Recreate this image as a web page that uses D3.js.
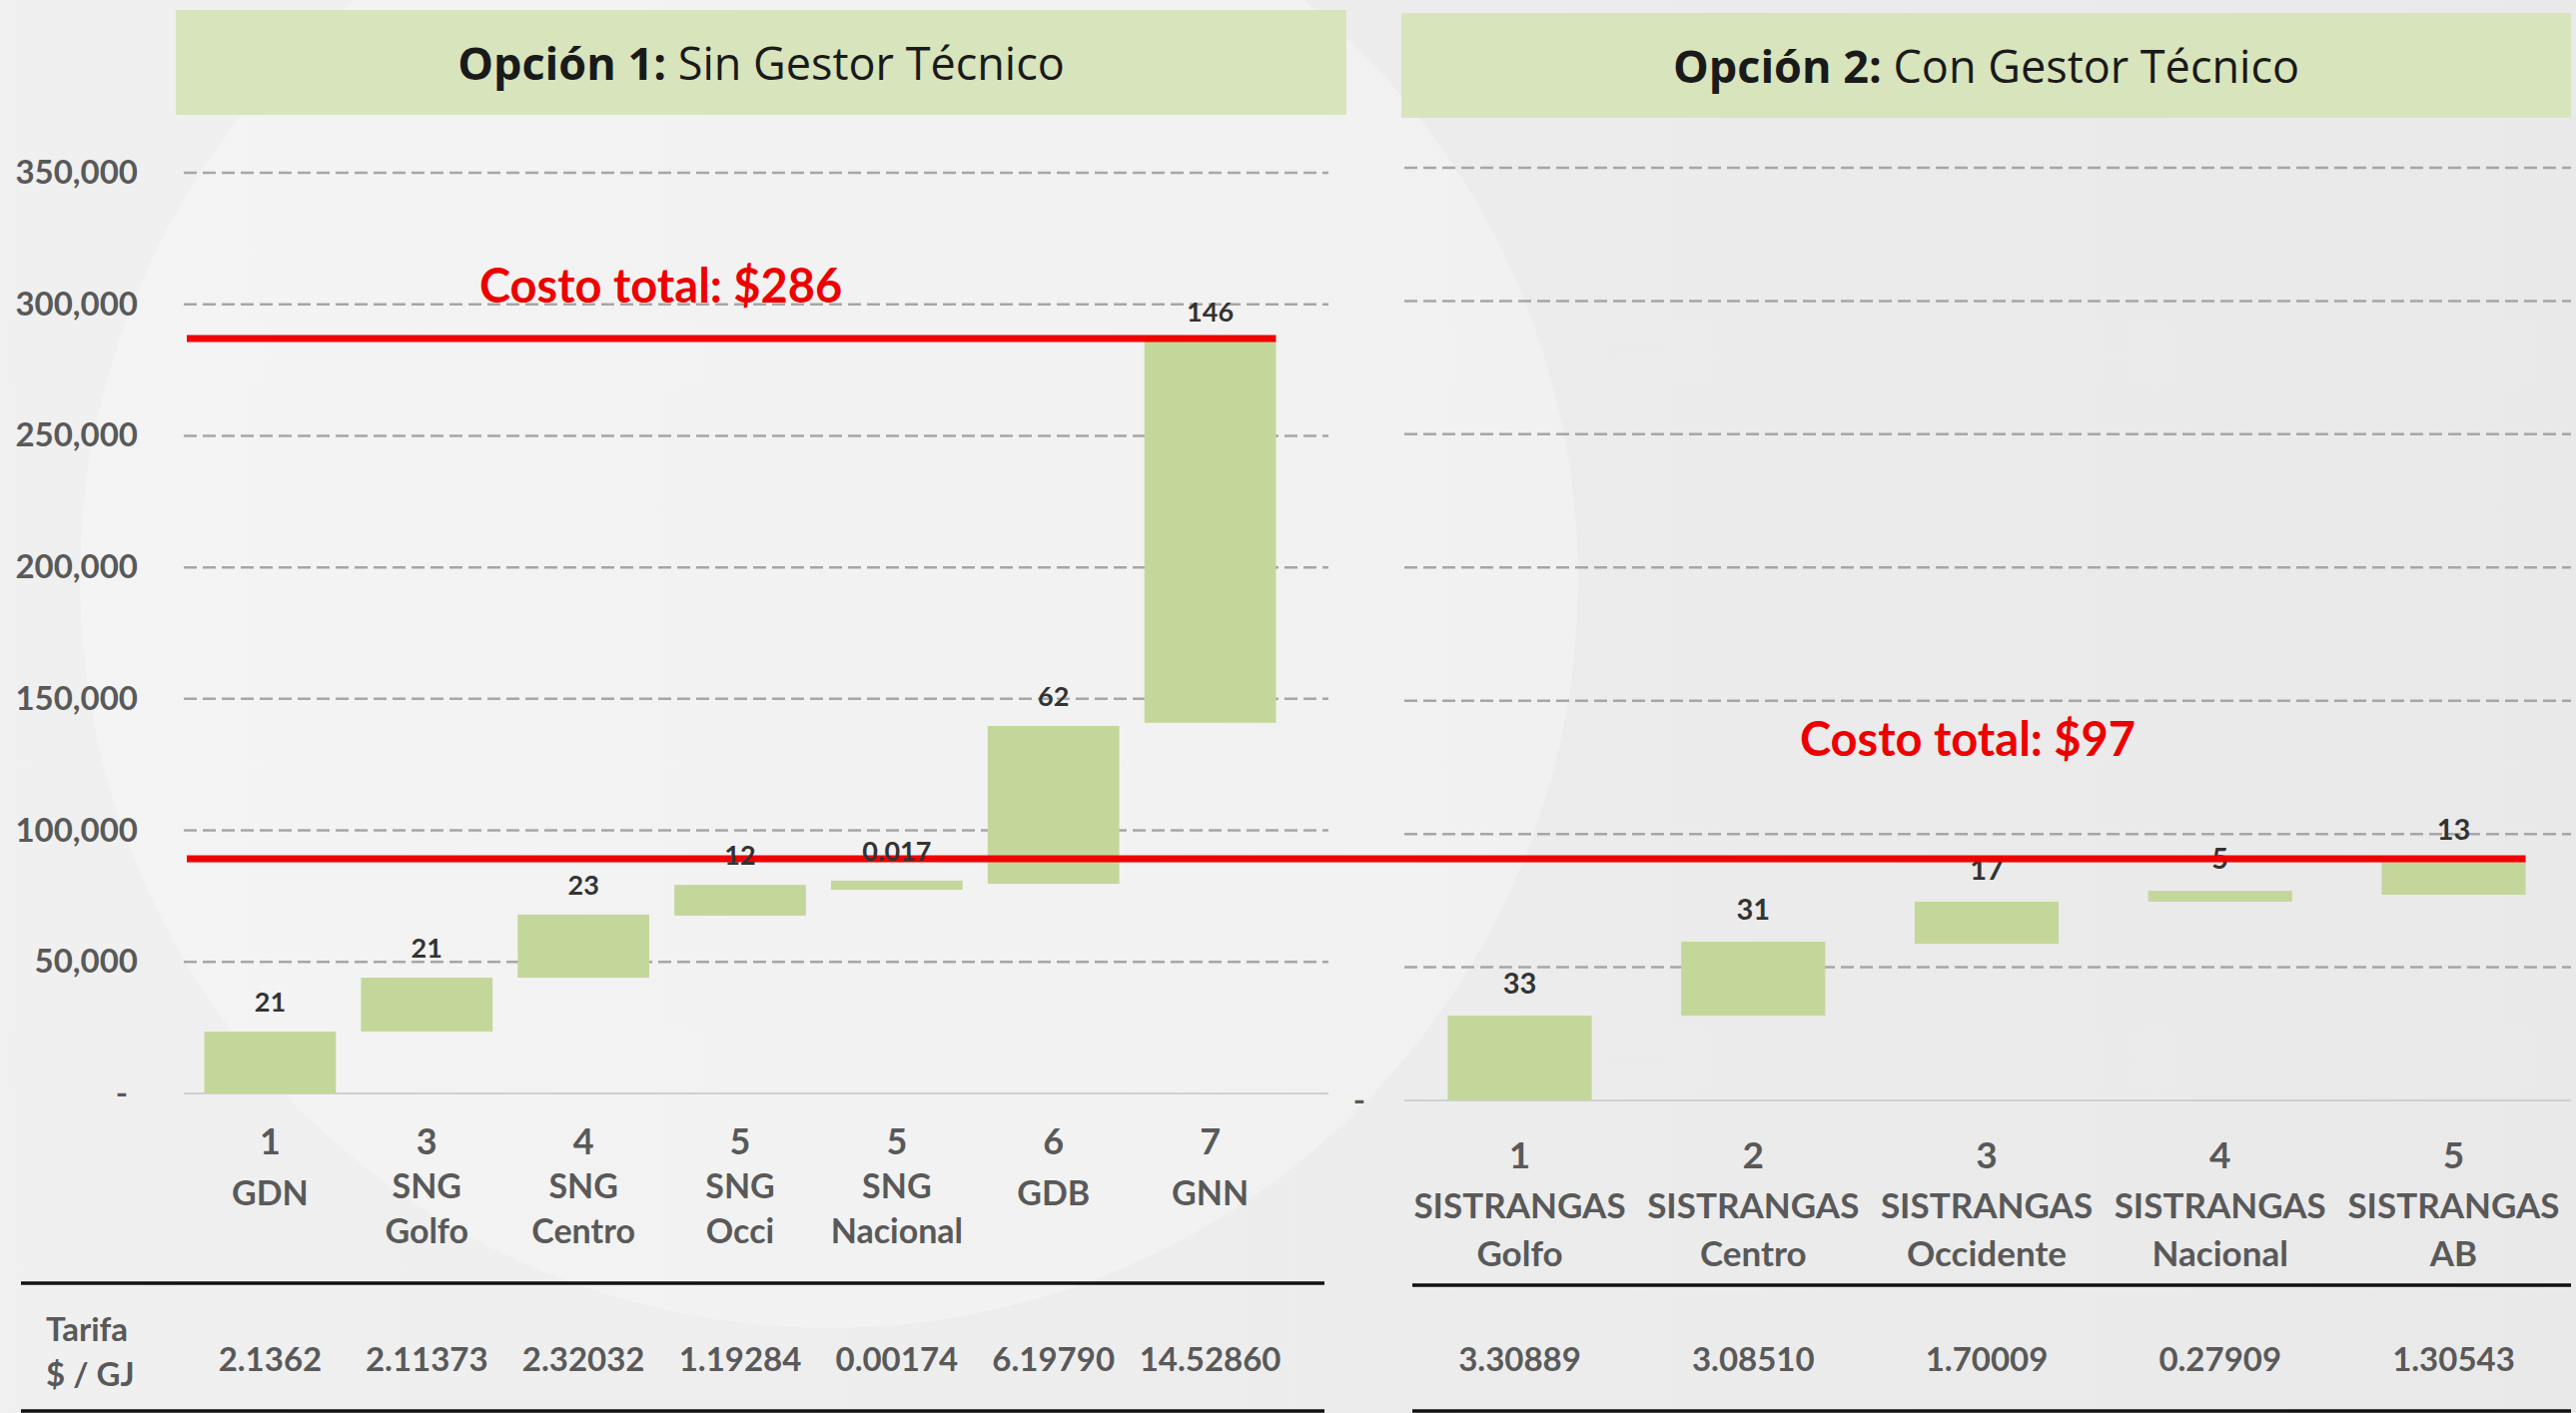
<!DOCTYPE html>
<html>
<head>
<meta charset="utf-8">
<script src="https://cdn.jsdelivr.net/npm/d3@7"></script>
<style>
  body { margin: 0; background: #eeeeee; overflow: hidden; }
  svg { display: block; }
  text { font-family: Lato, "Open Sans", sans-serif; }
</style>
</head>
<body>
<svg id="chart" width="2579" height="1415"></svg>
<script>
// values in thousands of $
var leftNums = ["1", "3", "4", "5", "5", "6", "7"];
var leftNames = [["GDN"], ["SNG", "Golfo"], ["SNG", "Centro"], ["SNG", "Occi"], ["SNG", "Nacional"], ["GDB"], ["GNN"]];
var leftStart = [0, 23.5, 44, 67.6, 77.4, 79.7, 140.9];
var leftEnd = [23.5, 44, 68, 79.3, 80.9, 139.7, 285.9];
var leftLabels = ["21", "21", "23", "12", "0.017", "62", "146"];
var leftTarifa = ["2.1362", "2.11373", "2.32032", "1.19284", "0.00174", "6.19790", "14.52860"];

var rightNums = ["1", "2", "3", "4", "5"];
var rightNames = [["SISTRANGAS", "Golfo"], ["SISTRANGAS", "Centro"], ["SISTRANGAS", "Occidente"], ["SISTRANGAS", "Nacional"], ["SISTRANGAS", "AB"]];
var rightStart = [0, 31.8, 58.8, 74.6, 77.2];
var rightEnd = [31.8, 59.6, 74.6, 78.7, 89.5];
var rightLabels = ["33", "31", "17", "5", "13"];
var rightTarifa = ["3.30889", "3.08510", "1.70009", "0.27909", "1.30543"];

var yTicks = [0, 50, 100, 150, 200, 250, 300, 350];
var totals = [287, 89.2];
var totalLabels = ["Costo total: $286", "Costo total: $97"];
var titles = [["Opción 1:", " Sin Gestor Técnico"], ["Opción 2:", " Con Gestor Técnico"]];

var svg = d3.select("#chart");
var grey = "#595959";

// background
var defs = svg.append("defs");
var bg = defs.append("linearGradient").attr("id", "bg");
bg.append("stop").attr("offset", "0%").attr("stop-color", "#f0f0f0");
bg.append("stop").attr("offset", "100%").attr("stop-color", "#e9e9e9");
svg.append("rect").attr("width", 2579).attr("height", 1415).attr("fill", "url(#bg)");
svg.append("circle").attr("cx", 830).attr("cy", 580).attr("r", 750)
  .attr("fill", "#ffffff").attr("opacity", 0.28);

// scales
var yL = d3.scaleLinear().domain([0, 350]).range([1095, 173]);
var yR = d3.scaleLinear().domain([0, 350]).range([1102, 168]);
var xL = d3.scaleBand().domain(d3.range(leftNums.length)).range([192, 1290]).paddingInner(0.16).paddingOuter(0.08);
var xR = d3.scaleBand().domain(d3.range(rightNums.length)).range([1405, 2573]).paddingInner(0.383).paddingOuter(0.19);

var panels = [
  { x: xL, y: yL, gx: [184, 1330], box: [176, 10, 1172, 105], nums: leftNums, names: leftNames,
    start: leftStart, end: leftEnd, labels: leftLabels, tarifa: leftTarifa,
    numY: 1156, nameY: 1200, name2Y: 1245, singleDy: 7, nameSize: 34, numSize: 36, valSize: 27, valDy: 20,
    rule: [21, 1326, 1285] },
  { x: xR, y: yR, gx: [1406, 2574], box: [1403, 13, 1171, 105], nums: rightNums, names: rightNames,
    start: rightStart, end: rightEnd, labels: rightLabels, tarifa: rightTarifa,
    numY: 1170, nameY: 1220, name2Y: 1268, singleDy: 0, nameSize: 35, numSize: 37, valSize: 29, valDy: 22,
    rule: [1414, 2574, 1287] }
];

panels.forEach(function (p, k) {
  // title box
  svg.append("rect").attr("x", p.box[0]).attr("y", p.box[1]).attr("width", p.box[2]).attr("height", p.box[3])
    .attr("fill", "#d8e4bc");
  var t = svg.append("text").attr("x", p.box[0] + p.box[2] / 2).attr("y", p.box[1] + 70)
    .attr("text-anchor", "middle").style("font-family", "'Open Sans', sans-serif")
    .style("font-size", "45px").attr("fill", "#1a1a1a");
  t.append("tspan").style("font-weight", 700).text(titles[k][0]);
  t.append("tspan").style("font-weight", 400).text(titles[k][1]);

  // gridlines
  svg.append("g").selectAll("line").data(yTicks.filter(function (d) { return d > 0; }))
    .enter().append("line")
    .attr("x1", p.gx[0]).attr("x2", p.gx[1])
    .attr("y1", function (d) { return p.y(d); }).attr("y2", function (d) { return p.y(d); })
    .attr("stroke", "#a6a6a6").attr("stroke-width", 2.5).attr("stroke-dasharray", "13,6");
  svg.append("line").attr("x1", p.gx[0]).attr("x2", p.gx[1]).attr("y1", p.y(0)).attr("y2", p.y(0))
    .attr("stroke", "#d0d0d0").attr("stroke-width", 2);

  // bars
  svg.append("g").selectAll("rect").data(p.start).enter().append("rect")
    .attr("x", function (d, i) { return p.x(i); })
    .attr("width", p.x.bandwidth())
    .attr("y", function (d, i) { return p.y(p.end[i]); })
    .attr("height", function (d, i) { return p.y(d) - p.y(p.end[i]); })
    .attr("fill", "#c4d79b");

  // category labels
  var cats = svg.append("g").attr("fill", grey).style("font-weight", 700).attr("text-anchor", "middle");
  cats.selectAll("text.num").data(p.nums).enter().append("text").attr("class", "num")
    .attr("x", function (d, i) { return p.x(i) + p.x.bandwidth() / 2; })
    .attr("y", p.numY).style("font-size", p.numSize + "px").text(function (d) { return d; });
  p.names.forEach(function (lines, i) {
    lines.forEach(function (s, j) {
      cats.append("text")
        .attr("x", p.x(i) + p.x.bandwidth() / 2)
        .attr("y", (j === 0 ? p.nameY : p.name2Y) + (lines.length === 1 ? p.singleDy : 0))
        .style("font-size", p.nameSize + "px").text(s);
    });
  });

  // table rules
  svg.append("line").attr("x1", p.rule[0]).attr("x2", p.rule[1]).attr("y1", p.rule[2]).attr("y2", p.rule[2])
    .attr("stroke", "#111").attr("stroke-width", 3.5);
  svg.append("line").attr("x1", p.rule[0]).attr("x2", p.rule[1]).attr("y1", 1413).attr("y2", 1413)
    .attr("stroke", "#111").attr("stroke-width", 3.5);

  // tarifa values
  svg.append("g").selectAll("text").data(p.tarifa).enter().append("text")
    .attr("x", function (d, i) { return p.x(i) + p.x.bandwidth() / 2; })
    .attr("y", 1373).attr("text-anchor", "middle").attr("fill", grey)
    .style("font-weight", 700).style("font-size", "33px").text(function (d) { return d; });
});

function valueLabels(p) {
  svg.append("g").selectAll("text").data(p.labels).enter().append("text")
    .attr("x", function (d, i) { return p.x(i) + p.x.bandwidth() / 2; })
    .attr("y", function (d, i) { return p.y(p.end[i]) - p.valDy; })
    .attr("text-anchor", "middle").attr("fill", "#333333")
    .style("font-weight", 700).style("font-size", p.valSize + "px")
    .text(function (d) { return d; });
}

// right labels sit under the red line, left ones over it
valueLabels(panels[1]);

// total cost lines
var lastL = leftNums.length - 1, lastR = rightNums.length - 1;
svg.append("line").attr("x1", 187).attr("x2", xL(lastL) + xL.bandwidth())
  .attr("y1", yL(totals[0])).attr("y2", yL(totals[0]))
  .attr("stroke", "#f00000").attr("stroke-width", 7);
svg.append("line").attr("x1", 187).attr("x2", xR(lastR) + xR.bandwidth())
  .attr("y1", yL(totals[1])).attr("y2", yL(totals[1]))
  .attr("stroke", "#f00000").attr("stroke-width", 7);
svg.append("text").attr("x", 480).attr("y", yL(totals[0]) - 36).attr("fill", "#ee0000")
  .style("font-weight", 700).style("font-size", "47px").text(totalLabels[0]);
svg.append("text").attr("x", 1802).attr("y", yL(totals[1]) - 103).attr("fill", "#ee0000")
  .style("font-weight", 700).style("font-size", "47px").text(totalLabels[1]);

valueLabels(panels[0]);

// y axis (left panel)
var axis = svg.append("g").attr("transform", "translate(148,0)")
  .call(d3.axisLeft(yL).tickValues(yTicks).tickSize(0).tickPadding(10)
    .tickFormat(function (d) { return d === 0 ? "-" : d3.format(",")(d * 1000); }));
axis.select(".domain").remove();
axis.selectAll("text").attr("fill", grey).style("font-family", "Lato, sans-serif")
  .style("font-weight", 700).style("font-size", "33px")
  .attr("dx", function (d) { return d === 0 ? -10 : 0; });

// zero label of right panel
svg.append("text").attr("x", 1361).attr("y", yR(0)).attr("dy", "0.32em").attr("text-anchor", "middle")
  .attr("fill", grey).style("font-weight", 700).style("font-size", "33px").text("-");

// tarifa row header
svg.append("text").attr("x", 46).attr("y", 1343).attr("fill", grey)
  .style("font-weight", 700).style("font-size", "33px").text("Tarifa");
svg.append("text").attr("x", 46).attr("y", 1388).attr("fill", grey)
  .style("font-weight", 700).style("font-size", "33px").text("$ / GJ");
</script>
</body>
</html>
